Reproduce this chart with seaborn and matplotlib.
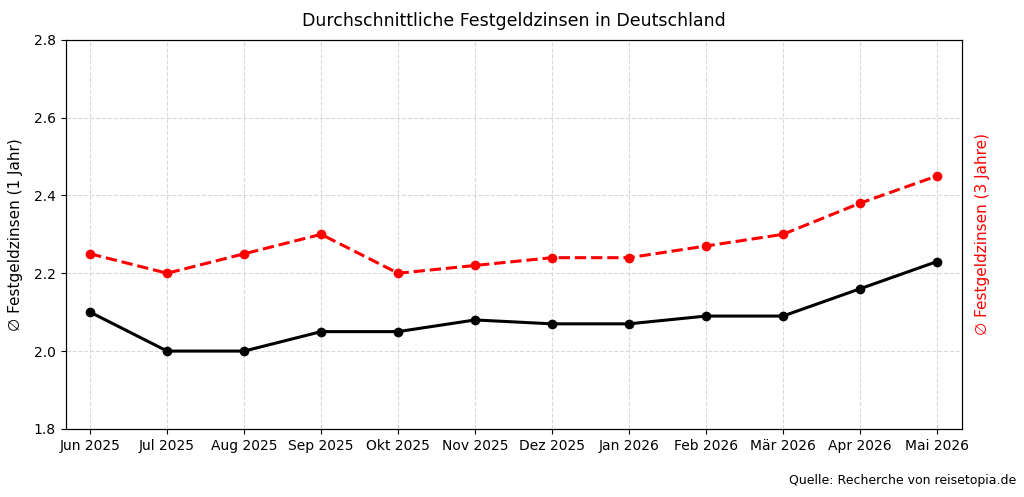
import matplotlib
matplotlib.use("Agg")
import matplotlib.pyplot as plt
import seaborn as sns
import pandas as pd

months = ["Jun 2025", "Jul 2025", "Aug 2025", "Sep 2025", "Okt 2025", "Nov 2025",
          "Dez 2025", "Jan 2026", "Feb 2026", "Mär 2026", "Apr 2026", "Mai 2026"]
rate_1y = [2.10, 2.00, 2.00, 2.05, 2.05, 2.08, 2.07, 2.07, 2.09, 2.09, 2.16, 2.23]
rate_3y = [2.25, 2.20, 2.25, 2.30, 2.20, 2.22, 2.24, 2.24, 2.27, 2.30, 2.38, 2.45]

df = pd.DataFrame({"x": range(len(months)), "r1": rate_1y, "r3": rate_3y})

sns.set_style("ticks")
plt.rcParams["font.family"] = ["DejaVu Sans"]
plt.rcParams["text.color"] = "black"
plt.rcParams["axes.labelcolor"] = "black"
plt.rcParams["xtick.color"] = "black"
plt.rcParams["ytick.color"] = "black"
plt.rcParams["axes.edgecolor"] = "black"

fig, ax = plt.subplots(figsize=(10.24, 4.97), dpi=100)
fig.subplots_adjust(left=0.064, right=0.939, top=0.92, bottom=0.137)

sns.lineplot(data=df, x="x", y="r1", ax=ax, color="black", linewidth=2.2,
             marker="o", markersize=7, markeredgewidth=0)
ax.set_ylim(1.8, 2.8)
ax.set_xlim(-0.32, len(months) - 1 + 0.32)
ax.set_yticks([1.8, 2.0, 2.2, 2.4, 2.6, 2.8])
ax.set_xticks(range(len(months)))
ax.set_xticklabels(months)
ax.set_xlabel("")
ax.set_ylabel("\u2205 Festgeldzinsen (1 Jahr)", fontsize=11, labelpad=8)
ax.grid(True, linestyle="--", color="#d9d9d9", linewidth=0.8)
ax.tick_params(labelsize=10)

ax2 = ax.twinx()
sns.lineplot(data=df, x="x", y="r3", ax=ax2, color="red", linewidth=2.2,
             linestyle="--", marker="o", markersize=7, markeredgewidth=0)
ax2.set_ylim(1.8, 2.8)
ax2.set_yticks([])
ax2.set_ylabel("\u2205 Festgeldzinsen (3 Jahre)", color="red", fontsize=11, labelpad=10)

for spine in list(ax.spines.values()) + list(ax2.spines.values()):
    spine.set_visible(True)
    spine.set_color("black")

ax.set_title("Durchschnittliche Festgeldzinsen in Deutschland", fontsize=12.5, pad=10)
fig.text(0.992, 0.02, "Quelle: Recherche von reisetopia.de", ha="right", va="bottom", fontsize=9)

fig.savefig("out.png", dpi=100)
